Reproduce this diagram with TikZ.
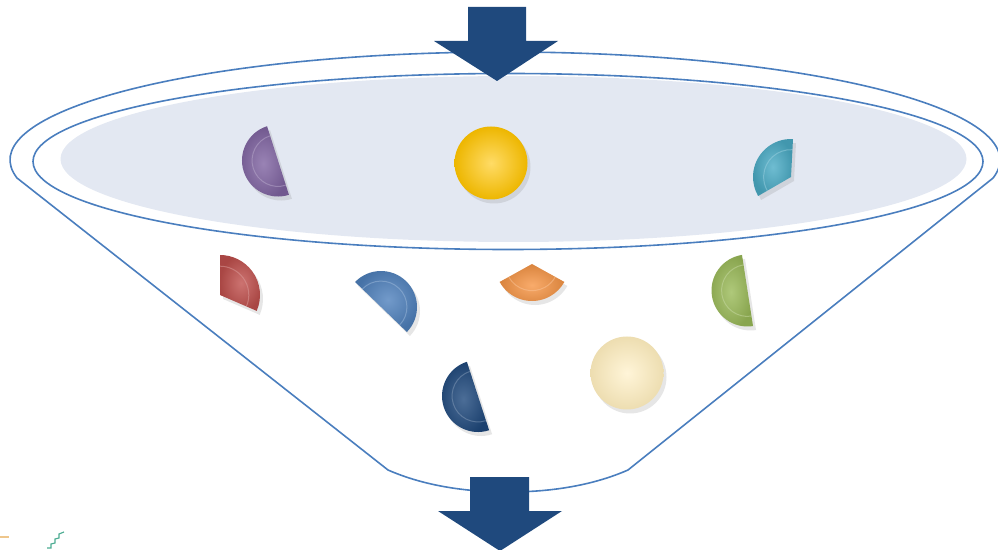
\documentclass[tikz,border=0pt]{standalone}
\usepackage{tikz}
\usetikzlibrary{shadows}

\definecolor{funnelLine}{RGB}{74,126,190}
\definecolor{funnelFill}{RGB}{227,232,242}
\definecolor{arrowBlue}{RGB}{31,73,125}
\definecolor{pieViolet}{RGB}{128,100,162}
\definecolor{pieCyan}{RGB}{75,172,198}
\definecolor{pieRed}{RGB}{192,80,77}
\definecolor{pieBlue}{RGB}{79,129,189}
\definecolor{pieOrange}{RGB}{247,150,70}
\definecolor{pieGreen}{RGB}{155,187,89}
\definecolor{pieNavy}{RGB}{31,73,125}
\definecolor{ballGold}{RGB}{255,196,0}
\definecolor{ballCream}{RGB}{255,238,190}
\definecolor{stepGreen}{RGB}{76,172,146}
\definecolor{tanLine}{RGB}{238,198,140}

\tikzset{
  funnel/.style={draw=funnelLine, line width=1.6pt},
  soft/.style={drop shadow={opacity=.2, shadow xshift=3pt, shadow yshift=-4pt}}
}

\begin{document}
\begin{tikzpicture}[x=1pt,y=1pt]
\useasboundingbox (0,0) rectangle (998,549);
\coordinate (bowl) at (513.5,390);
\coordinate (lip) at (508,387.5);
% funnel body
\draw[funnel] (17,371) arc[start angle=189.6, end angle=-9.6, x radius=495, y radius=108]
  -- (628,79) .. controls (596,65) and (556,57) .. (508,57)
  .. controls (460,57) and (420,65) .. (388,79) -- cycle;
\fill[funnelFill] (bowl) ellipse[x radius=453, y radius=83];
\draw[funnel] (lip) ellipse[x radius=475, y radius=88];
% pieces
\foreach \cx/\cy/\r/\a/\b/\col in {278/388.5/36/107.7/287.7/pieViolet,
    791/372/38/87/210/pieCyan, 220/254/40/-23.4/90/pieRed,
    381/242/36/-44/136/pieBlue, 532/285/37/209/331/pieOrange,
    747.5/258.5/36/98.8/278.8/pieGreen, 478/153/36/108/288/pieNavy}{
  \path[soft, inner color=\col!80!white, outer color=\col!88!black]
    (\cx,\cy) -- ++(\a:\r) arc[start angle=\a, end angle=\b, radius=\r] -- cycle;
  \draw[\col!55!white, line width=1pt, opacity=.5]
    (\cx,\cy) ++(\a:.72*\r) arc[start angle=\a, end angle=\b, radius=.72*\r];
}
\foreach \cx/\cy/\col in {491/386/ballGold, 627/176/ballCream}{
  \path[soft, inner color=\col!60!white, outer color=\col!93!black] (\cx,\cy) circle (36.5);
}
% arrows
\fill[arrowBlue] (468,542) -- (526,542) -- (526,508) -- (558,508) -- (497,468)
  -- (434,508) -- (468,508) -- cycle;
\fill[arrowBlue] (470,72) -- (529,72) -- (529,38) -- (562,38) -- (500,-2)
  -- (438,38) -- (470,38) -- cycle;
% cut-off bits at the corner
\draw[tanLine, line width=1.2pt] (0,12) -- (9,12);
\draw[stepGreen, line width=1.2pt] (47,1) -- (51,1) -- (51,5) -- (55,6) -- (55,10)
  -- (59,11) -- (59,15) -- (64,17);
\end{tikzpicture}
\end{document}
